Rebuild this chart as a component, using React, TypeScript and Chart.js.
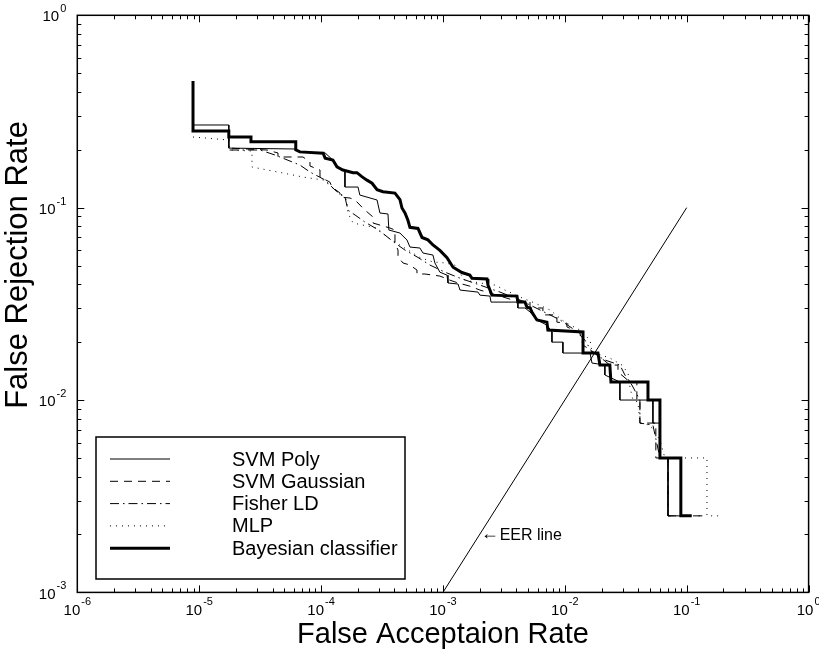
import React, { useEffect, useRef } from 'react';
import { Chart, registerables } from 'chart.js';

Chart.register(...registerables);

const FONT = '"Liberation Sans", Arial, Helvetica, sans-serif';

// ---------- axis ticks ----------
const X_DECADES = [1e-6, 1e-5, 1e-4, 1e-3, 1e-2, 1e-1, 1];
const X_EXPONENTS = ['-6', '-5', '-4', '-3', '-2', '-1', '0'];
const Y_DECADES = [1e-3, 1e-2, 1e-1, 1];
const Y_EXPONENTS = ['-3', '-2', '-1', '0'];
const TICK_BASE = '10';

const X_TITLE = 'False Acceptaion Rate';
const Y_TITLE = 'False Rejection Rate';

// ---------- series (FAR, FRR) ----------
const SERIES_NAMES = ['SVM Poly', 'SVM Gaussian', 'Fisher LD', 'MLP', 'Bayesian classifier'];

const POLY_FAR = [8.9e-6, 1.75e-5, 1.75e-5, 6.2e-5, 6.7e-5, 1.08e-4, 1.25e-4, 1.35e-4, 1.57e-4, 1.57e-4, 2.01e-4, 2.08e-4, 2.88e-4, 3.04e-4, 3.54e-4, 3.6e-4, 4.44e-4, 5.07e-4, 5.36e-4, 6.47e-4, 6.86e-4, 8.28e-4, 8.59e-4, 9.44e-4, 1.08e-3, 1.10e-3, 1.33e-3, 1.38e-3, 1.94e-3, 2.01e-3, 2.43e-3, 2.48e-3, 4.12e-3, 4.12e-3, 4.71e-3, 5.18e-3, 5.9e-3, 7.13e-3, 7.84e-3, 7.84e-3, 9.64e-3, 9.64e-3, 1.61e-2, 1.67e-2, 2.13e-2, 2.13e-2, 2.83e-2, 2.83e-2, 5.28e-2, 5.28e-2, 6.03e-2, 6.03e-2, 7.02e-2, 7.02e-2, 8.95e-2];
const POLY_FRR = [0.269, 0.269, 0.204, 0.2018, 0.1947, 0.1924, 0.1769, 0.1627, 0.155, 0.128, 0.128, 0.1163, 0.1096, 0.0938, 0.0927, 0.0765, 0.0738, 0.0679, 0.0624, 0.0617, 0.0581, 0.0567, 0.0516, 0.0462, 0.0446, 0.0406, 0.0401, 0.0373, 0.0364, 0.0351, 0.0347, 0.0323, 0.0323, 0.0301, 0.0301, 0.0287, 0.0261, 0.0245, 0.0226, 0.02, 0.02, 0.01755, 0.01755, 0.01557, 0.0152, 0.0135, 0.0124, 0.01, 0.01, 0.00759, 0.00759, 0.005, 0.005, 0.0025, 0.0025];

const GAUSS_FAR = [8.9e-6, 1.75e-5, 1.75e-5, 3.6e-5, 4.43e-5, 4.43e-5, 7.11e-5, 8.11e-5, 8.11e-5, 9.8e-5, 9.8e-5, 1.18e-4, 1.23e-4, 1.43e-4, 1.43e-4, 1.73e-4, 1.9e-4, 2.16e-4, 2.29e-4, 2.67e-4, 2.67e-4, 3.67e-4, 4.04e-4, 4.04e-4, 4.28e-4, 4.28e-4, 4.7e-4, 5.36e-4, 6.12e-4, 6.12e-4, 7.11e-4, 9.44e-4, 1.14e-3, 1.33e-3, 1.66e-3, 2.01e-3, 2.43e-3, 2.94e-3, 3.75e-3, 5.18e-3, 5.18e-3, 6.61e-3, 6.61e-3, 8.61e-3, 8.61e-3, 1.04e-2, 1.04e-2, 1.33e-2, 1.41e-2, 1.77e-2, 2.34e-2, 2.73e-2, 2.73e-2, 3.42e-2, 3.9e-2, 3.9e-2, 4.13e-2, 4.13e-2, 5.58e-2, 5.58e-2, 7.02e-2, 7.02e-2, 0.141];
const GAUSS_FRR = [0.25, 0.25, 0.204, 0.1994, 0.1924, 0.1834, 0.1834, 0.1727, 0.1646, 0.157, 0.1443, 0.1359, 0.128, 0.1192, 0.1136, 0.1122, 0.1096, 0.1008, 0.0972, 0.0894, 0.0832, 0.0784, 0.0765, 0.0655, 0.0602, 0.0554, 0.0516, 0.0503, 0.0474, 0.0452, 0.0452, 0.0441, 0.042, 0.0406, 0.0391, 0.0373, 0.036, 0.0347, 0.0331, 0.0323, 0.0301, 0.0301, 0.0277, 0.0277, 0.0254, 0.0251, 0.024, 0.0223, 0.0193, 0.01755, 0.0152, 0.0152, 0.014, 0.0124, 0.0124, 0.01, 0.01, 0.00759, 0.00759, 0.005, 0.005, 0.0025, 0.0025];

const FISHER_FAR = [8.9e-6, 1.75e-5, 1.75e-5, 3.16e-5, 4.19e-5, 6.7e-5, 8.11e-5, 1.08e-4, 1.3e-4, 1.57e-4, 1.66e-4, 1.9e-4, 2.29e-4, 2.77e-4, 3.34e-4, 4.04e-4, 4.88e-4, 6.24e-4, 7.82e-4, 1.04e-3, 1.38e-3, 2.01e-3, 2.94e-3, 4.29e-3, 6.25e-3, 9.12e-3, 1.21e-2, 1.46e-2, 1.67e-2, 2.13e-2, 2.83e-2, 3.11e-2, 3.55e-2, 4.13e-2, 4.13e-2, 5.28e-2, 6.03e-2, 7.02e-2, 7.02e-2, 0.128];
const FISHER_FRR = [0.25, 0.25, 0.1994, 0.1994, 0.1878, 0.1666, 0.1532, 0.1392, 0.1235, 0.1136, 0.0972, 0.0916, 0.0842, 0.0784, 0.0721, 0.0655, 0.0602, 0.0551, 0.0503, 0.0462, 0.043, 0.0396, 0.0364, 0.0331, 0.0294, 0.0261, 0.0231, 0.0205, 0.01776, 0.01614, 0.0152, 0.0135, 0.01197, 0.01, 0.00759, 0.00741, 0.005, 0.005, 0.0025, 0.0025];

const MLP_FAR = [8.9e-6, 1.75e-5, 1.78e-5, 2.71e-5, 2.71e-5, 4.87e-5, 7.11e-5, 1.04e-4, 1.25e-4, 1.63e-4, 1.66e-4, 1.83e-4, 2.88e-4, 3.48e-4, 4.44e-4, 6.47e-4, 8.28e-4, 1.04e-3, 1.25e-3, 1.51e-3, 2.01e-3, 2.67e-3, 3.23e-3, 4.29e-3, 5.69e-3, 7.55e-3, 1.0e-2, 1.33e-2, 1.61e-2, 1.67e-2, 2.34e-2, 2.94e-2, 3.3e-2, 3.42e-2, 3.62e-2, 3.98e-2, 4.13e-2, 4.99e-2, 6.03e-2, 6.62e-2, 0.1466, 0.1466, 0.187];
const MLP_FRR = [0.233, 0.2247, 0.1994, 0.197, 0.1627, 0.1514, 0.1443, 0.1392, 0.1265, 0.1096, 0.0938, 0.0832, 0.0784, 0.0704, 0.0639, 0.0551, 0.0522, 0.0516, 0.0503, 0.042, 0.0406, 0.0396, 0.0373, 0.0343, 0.0319, 0.0294, 0.0254, 0.0231, 0.0205, 0.01776, 0.01654, 0.0152, 0.0138, 0.01167, 0.01, 0.00976, 0.00759, 0.00741, 0.0062, 0.005, 0.005, 0.0025, 0.0025];

const BAYES_FAR = [8.9e-6, 8.9e-6, 1.75e-5, 1.75e-5, 2.66e-5, 2.66e-5, 6.2e-5, 6.2e-5, 6.7e-5, 1.04e-4, 1.08e-4, 1.25e-4, 1.35e-4, 1.51e-4, 1.83e-4, 1.97e-4, 2.16e-4, 2.38e-4, 2.62e-4, 2.88e-4, 3.22e-4, 4.04e-4, 4.44e-4, 4.61e-4, 4.88e-4, 5.16e-4, 5.36e-4, 6.24e-4, 6.73e-4, 7.53e-4, 8.28e-4, 9.44e-4, 1.08e-3, 1.14e-3, 1.21e-3, 1.43e-3, 1.66e-3, 1.73e-3, 2.30e-3, 2.34e-3, 2.43e-3, 2.52e-3, 4.05e-3, 4.12e-3, 4.71e-3, 4.89e-3, 5.18e-3, 5.37e-3, 5.69e-3, 5.90e-3, 7.13e-3, 7.26e-3, 1.41e-2, 1.41e-2, 1.87e-2, 1.94e-2, 2.34e-2, 2.39e-2, 4.81e-2, 4.81e-2, 6.03e-2, 6.03e-2, 8.95e-2, 8.95e-2, 0.11];
const BAYES_FRR = [0.455, 0.25, 0.25, 0.233, 0.233, 0.22, 0.22, 0.2, 0.195, 0.192, 0.181, 0.177, 0.163, 0.157, 0.152, 0.152, 0.145, 0.139, 0.134, 0.124, 0.121, 0.119, 0.11, 0.0996, 0.094, 0.086, 0.079, 0.078, 0.07, 0.068, 0.064, 0.06, 0.055, 0.052, 0.049, 0.046, 0.0446, 0.043, 0.0426, 0.0396, 0.0373, 0.0351, 0.0347, 0.0323, 0.0323, 0.0304, 0.0301, 0.0287, 0.027, 0.0261, 0.0254, 0.0231, 0.0226, 0.01755, 0.01755, 0.0152, 0.0152, 0.0124, 0.0124, 0.01, 0.01, 0.005, 0.005, 0.0025, 0.0025];

const EER_FAR = [1e-3, 1e-1];
const EER_FRR = [1e-3, 1e-1];
const EER_ARROW = '←';
const EER_LABEL = 'EER line';
const EER_LABEL_AT = 2e-3;

// ---------- helpers ----------
const toPoints = (xs: number[], ys: number[]) => xs.map((x, i) => ({ x, y: ys[i] }));
const isDecade = (v: number) => Math.abs(Math.log10(v) - Math.round(Math.log10(v))) < 1e-6;
const withMinors = (decades: number[]) => {
  const out: number[] = [];
  decades.forEach((d, i) => {
    if (i < decades.length - 1) {
      for (let k = 1; k < 10; k++) out.push(d * k);
    } else out.push(d);
  });
  return out;
};

function drawPower(ctx: CanvasRenderingContext2D, exp: string, x: number, y: number, align: 'right' | 'center') {
  ctx.font = `15px ${FONT}`;
  const wBase = ctx.measureText(TICK_BASE).width;
  ctx.font = `11px ${FONT}`;
  const wExp = ctx.measureText(exp).width;
  const total = wBase + 1 + wExp;
  const x0 = align === 'right' ? x - total : x - total / 2;
  ctx.textAlign = 'left';
  ctx.textBaseline = 'middle';
  ctx.font = `15px ${FONT}`;
  ctx.fillText(TICK_BASE, x0, y);
  ctx.font = `11px ${FONT}`;
  ctx.fillText(exp, x0 + wBase + 1, y - 8);
}

const framePlugin = {
  id: 'frameTicks',
  afterDraw(chart: any) {
    const { ctx, chartArea, scales } = chart;
    const { left, right, top, bottom } = chartArea;
    ctx.save();
    ctx.strokeStyle = '#000';
    ctx.fillStyle = '#000';
    ctx.lineWidth = 1;
    scales.x.ticks.forEach((t: any) => {
      const px = Math.round(scales.x.getPixelForValue(t.value)) + 0.5;
      const len = isDecade(t.value) ? 7 : 4;
      ctx.beginPath();
      ctx.moveTo(px, bottom);
      ctx.lineTo(px, bottom - len);
      ctx.moveTo(px, top);
      ctx.lineTo(px, top + len);
      ctx.stroke();
    });
    scales.y.ticks.forEach((t: any) => {
      const py = Math.round(scales.y.getPixelForValue(t.value)) + 0.5;
      const len = isDecade(t.value) ? 7 : 4;
      ctx.beginPath();
      ctx.moveTo(left, py);
      ctx.lineTo(left + len, py);
      ctx.moveTo(right, py);
      ctx.lineTo(right - len, py);
      ctx.stroke();
    });
    ctx.lineWidth = 1.5;
    ctx.strokeRect(left, top, right - left, bottom - top);

    // decade tick labels
    X_DECADES.forEach((d, i) => {
      drawPower(ctx, X_EXPONENTS[i], scales.x.getPixelForValue(d), bottom + 18, 'center');
    });
    Y_DECADES.forEach((d, i) => {
      drawPower(ctx, Y_EXPONENTS[i], left - 11, scales.y.getPixelForValue(d) + 2, 'right');
    });

    // y-axis title
    ctx.save();
    ctx.translate(18, 265);
    ctx.rotate(-Math.PI / 2);
    ctx.font = `31px ${FONT}`;
    ctx.textAlign = 'center';
    ctx.textBaseline = 'middle';
    ctx.fillText(Y_TITLE, 0, 0);
    ctx.restore();
    ctx.restore();
  },
};

const annotationPlugin = {
  id: 'eerLabel',
  afterDatasetsDraw(chart: any) {
    const { ctx, scales } = chart;
    const px = scales.x.getPixelForValue(EER_LABEL_AT);
    const py = scales.y.getPixelForValue(EER_LABEL_AT);
    ctx.save();
    ctx.fillStyle = '#000';
    ctx.textBaseline = 'middle';
    ctx.textAlign = 'left';
    ctx.font = `18px ${FONT}`;
    ctx.fillText(EER_ARROW, px + 1, py);
    ctx.font = `16px ${FONT}`;
    ctx.fillText(EER_LABEL, px + 20, py + 1);
    ctx.restore();
  },
};

const legendPlugin = {
  id: 'boxLegend',
  afterDraw(chart: any) {
    const { ctx } = chart;
    const L = 96, T = 437, R = 405, B = 579;
    ctx.save();
    ctx.fillStyle = '#fff';
    ctx.fillRect(L, T, R - L, B - T);
    ctx.strokeStyle = '#000';
    ctx.lineWidth = 1.5;
    ctx.strokeRect(L, T, R - L, B - T);
    const items = chart.data.datasets.filter((d: any) => SERIES_NAMES.includes(d.label));
    items.forEach((ds: any, i: number) => {
      const y = 459 + i * 22.3;
      ctx.beginPath();
      ctx.setLineDash(ds.borderDash || []);
      ctx.lineWidth = ds.borderWidth;
      ctx.strokeStyle = '#000';
      ctx.moveTo(110, y);
      ctx.lineTo(170, y);
      ctx.stroke();
      ctx.setLineDash([]);
      ctx.fillStyle = '#000';
      ctx.font = `20px ${FONT}`;
      ctx.textBaseline = 'middle';
      ctx.textAlign = 'left';
      ctx.fillText(ds.label, 232, y + 1);
    });
    ctx.restore();
  },
};

export default function App() {
  const ref = useRef<HTMLCanvasElement | null>(null);

  useEffect(() => {
    if (!ref.current) return;
    const base = {
      borderColor: '#000',
      pointRadius: 0,
      fill: false,
      tension: 0,
      borderJoinStyle: 'miter' as const,
      borderCapStyle: 'butt' as const,
    };
    const chart = new Chart(ref.current, {
      type: 'line',
      data: {
        datasets: [
          { ...base, label: SERIES_NAMES[0], data: toPoints(POLY_FAR, POLY_FRR), borderWidth: 1, order: 1 },
          { ...base, label: SERIES_NAMES[1], data: toPoints(GAUSS_FAR, GAUSS_FRR), borderWidth: 1, borderDash: [8, 6], order: 1 },
          { ...base, label: SERIES_NAMES[2], data: toPoints(FISHER_FAR, FISHER_FRR), borderWidth: 1, borderDash: [9, 4, 1.5, 4], order: 1 },
          { ...base, label: SERIES_NAMES[3], data: toPoints(MLP_FAR, MLP_FRR), borderWidth: 1, borderDash: [1, 5], order: 1 },
          { ...base, label: SERIES_NAMES[4], data: toPoints(BAYES_FAR, BAYES_FRR), borderWidth: 3, order: 0 },
          { ...base, label: 'EER line', data: toPoints(EER_FAR, EER_FRR), borderWidth: 1, order: 2 },
        ],
      },
      options: {
        animation: false,
        responsive: false,
        layout: { padding: { top: 15.3, right: 10.4, left: 0, bottom: 0 } },
        plugins: { legend: { display: false }, tooltip: { enabled: false } },
        scales: {
          x: {
            type: 'logarithmic',
            min: 1e-6,
            max: 1,
            afterBuildTicks: (scale: any) => {
              scale.ticks = withMinors(X_DECADES).map((v) => ({ value: v }));
            },
            afterFit: (scale: any) => {
              scale.height = 58.6;
              scale.paddingLeft = 0;
              scale.paddingRight = 0;
            },
            grid: { display: false, drawTicks: false },
            border: { display: false },
            ticks: { display: false },
            title: {
              display: true,
              text: X_TITLE,
              color: '#000',
              font: { family: FONT, size: 29, lineHeight: 1 },
              padding: { top: 0, bottom: 1.5 },
            },
          },
          y: {
            type: 'logarithmic',
            min: 1e-3,
            max: 1,
            afterBuildTicks: (scale: any) => {
              scale.ticks = withMinors(Y_DECADES).map((v) => ({ value: v }));
            },
            afterFit: (scale: any) => {
              scale.width = 77.3;
              scale.paddingTop = 0;
              scale.paddingBottom = 0;
            },
            grid: { display: false, drawTicks: false },
            border: { display: false },
            ticks: { display: false },
            title: { display: false },
          },
        },
      },
      plugins: [annotationPlugin, framePlugin, legendPlugin],
    });
    return () => chart.destroy();
  }, []);

  return (
    <div style={{ position: 'fixed', left: 0, top: 0, width: 819, height: 651, background: '#fff' }}>
      <canvas ref={ref} width={819} height={651} style={{ display: 'block' }} />
    </div>
  );
}
